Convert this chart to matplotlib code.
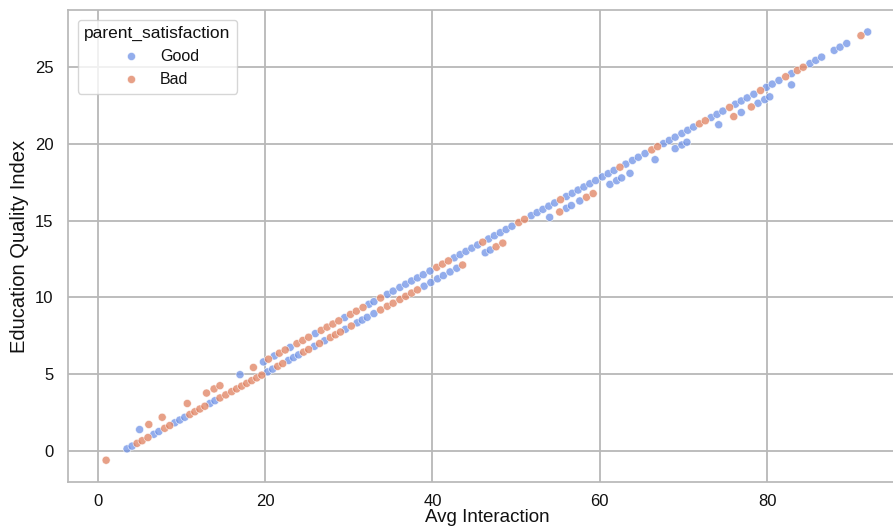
import matplotlib
matplotlib.use("Agg")
import matplotlib.pyplot as plt
import pandas as pd
import seaborn as sns

# values
good_x = [3.5, 4.1, 6.7, 7.3, 9.2, 9.8, 10.4, 13.4, 14.0, 20.3, 20.9, 22.8, 23.4, 24.0,
          25.9, 27.1, 29.6, 31.0, 31.6, 32.2, 33.0, 39.0, 39.8, 40.6, 41.3, 42.1, 42.9,
          46.3, 46.9, 54.0, 56.0, 56.6, 57.6, 61.2, 62.0, 62.6, 63.6, 66.6, 69.0, 69.8,
          70.4, 74.2, 76.9, 78.9, 79.7, 80.3, 82.9,
          5.0, 17.0, 19.8, 21.1, 23.0, 26.0, 29.5, 32.4, 33.0, 34.6, 35.3, 36.1, 36.8,
          37.5, 38.2, 38.9, 39.7, 42.6, 43.3, 44.0, 44.7, 45.4, 46.7, 47.4, 48.1, 48.8,
          49.5, 51.8, 52.5, 53.2, 53.9, 54.6, 56.0, 56.7, 57.4, 58.1, 58.8, 59.5, 60.3,
          61.0, 61.7, 63.1, 63.9, 64.6, 65.4, 67.6, 68.3, 69.0, 69.8, 70.5, 71.2, 73.3,
          74.0, 74.7, 76.2, 76.9, 77.6, 78.4, 79.9, 80.6, 81.4, 82.9, 85.1, 85.8, 86.5,
          88.0, 88.7, 89.5, 92.0]
good_y = [0.11, 0.29, 1.06, 1.24, 1.81, 1.99, 2.17, 3.07, 3.25, 5.13, 5.31, 5.88, 6.06, 6.24,
          6.80, 7.16, 7.91, 8.33, 8.51, 8.69, 8.93, 10.72, 10.96, 11.20, 11.41, 11.65, 11.89,
          12.90, 13.08, 15.21, 15.80, 15.98, 16.28, 17.36, 17.60, 17.78, 18.08, 18.97, 19.69, 19.93,
          20.11, 21.25, 22.05, 22.65, 22.89, 23.07, 23.85,
          1.37, 4.95, 5.78, 6.17, 6.73, 7.63, 8.67, 9.54, 9.71, 10.19, 10.40, 10.64, 10.85,
          11.06, 11.26, 11.47, 11.71, 12.57, 12.78, 12.99, 13.20, 13.41, 13.80, 14.01, 14.21, 14.42,
          14.63, 15.32, 15.52, 15.73, 15.94, 16.15, 16.57, 16.78, 16.99, 17.19, 17.40, 17.61, 17.85,
          18.06, 18.27, 18.68, 18.92, 19.13, 19.37, 20.02, 20.23, 20.44, 20.68, 20.89, 21.10, 21.72,
          21.93, 22.14, 22.59, 22.80, 23.00, 23.24, 23.69, 23.90, 24.14, 24.58, 25.24, 25.45, 25.66,
          26.10, 26.31, 26.55, 27.30]

bad_x = [1.0, 4.7, 5.3, 6.0, 8.0, 8.6, 11.0, 11.6, 12.2, 12.8, 14.6, 15.3, 16.0, 16.6,
         17.2, 17.8, 18.4, 19.0, 19.6, 21.5, 22.1, 24.6, 25.2, 26.5, 27.8, 28.4, 29.0,
         30.3, 33.8, 34.6, 35.3, 36.1, 36.8, 37.5, 38.2, 43.6, 47.6, 48.4, 55.2, 58.4,
         59.2, 76.0, 78.1,
         6.1, 7.7, 10.7, 13.0, 13.9, 14.6, 18.6, 20.4, 21.7, 22.4, 23.8, 24.5, 25.2,
         26.7, 27.4, 28.1, 28.8, 30.2, 30.9, 31.7, 33.8, 40.5, 41.2, 41.9, 46.0, 50.3,
         51.0, 55.3, 62.4, 66.2, 66.9, 71.9, 72.6, 75.5, 79.2, 82.2, 83.6, 84.3, 91.2]
bad_y = [-0.63, 0.47, 0.64, 0.85, 1.45, 1.63, 2.35, 2.53, 2.71, 2.89, 3.43, 3.63, 3.84, 4.02,
         4.20, 4.38, 4.56, 4.74, 4.92, 5.49, 5.67, 6.42, 6.59, 6.98, 7.37, 7.55, 7.73,
         8.12, 9.17, 9.41, 9.61, 9.85, 10.06, 10.27, 10.48, 12.10, 13.29, 13.53, 15.56, 16.52,
         16.76, 21.78, 22.41,
         1.70, 2.17, 3.07, 3.75, 4.02, 4.23, 5.42, 5.96, 6.35, 6.56, 6.97, 7.18, 7.39,
         7.84, 8.05, 8.25, 8.46, 8.88, 9.09, 9.33, 9.95, 11.95, 12.16, 12.37, 13.59, 14.87,
         15.08, 16.36, 18.48, 19.61, 19.82, 21.31, 21.51, 22.38, 23.48, 24.38, 24.79, 25.00, 27.06]

hue_order = ["Good", "Bad"]
colors = ["#6f92e6", "#e0805f"]


def main():
    sns.set_theme(style="whitegrid")
    plt.rcParams['font.family'] = ['Liberation Sans', 'DejaVu Sans']
    plt.rcParams['grid.color'] = '#b8b8b8'
    plt.rcParams['axes.edgecolor'] = '#b8b8b8'
    plt.rcParams['text.color'] = '#111111'
    plt.rcParams['axes.labelcolor'] = '#111111'
    plt.rcParams['xtick.color'] = '#111111'
    plt.rcParams['ytick.color'] = '#111111'

    df = pd.DataFrame({
        'Avg Interaction': good_x + bad_x,
        'Education Quality Index': good_y + bad_y,
        'parent_satisfaction': ['Good'] * len(good_x) + ['Bad'] * len(bad_x),
    })

    fig = plt.figure(figsize=(8.93, 5.31), dpi=100)
    ax = fig.add_axes([0.0762, 0.0923, 0.939, 0.8885])

    sns.scatterplot(data=df, x='Avg Interaction', y='Education Quality Index',
                    hue='parent_satisfaction', hue_order=hue_order, palette=colors,
                    s=34, alpha=0.75, edgecolor='white', linewidth=0.5, ax=ax)

    ax.set_xlim(-3.55, 96.65)
    ax.set_ylim(-2.05, 28.72)
    ax.set_xticks([0, 20, 40, 60, 80])
    ax.set_yticks([0, 5, 10, 15, 20, 25])
    ax.grid(True, linewidth=1.3)
    ax.tick_params(labelsize=12, pad=10.5, length=0)
    ax.tick_params(axis='x', pad=9)
    ax.set_xlabel('Avg Interaction', fontsize=13.5, labelpad=0)
    ax.set_ylabel('Education Quality Index', fontsize=14.5, labelpad=4)

    sns.move_legend(ax, 'upper left', fontsize=11.5, title_fontsize=12.5,
                    borderaxespad=0.6)

    fig.savefig('out.png', dpi=100)


if __name__ == '__main__':
    main()
